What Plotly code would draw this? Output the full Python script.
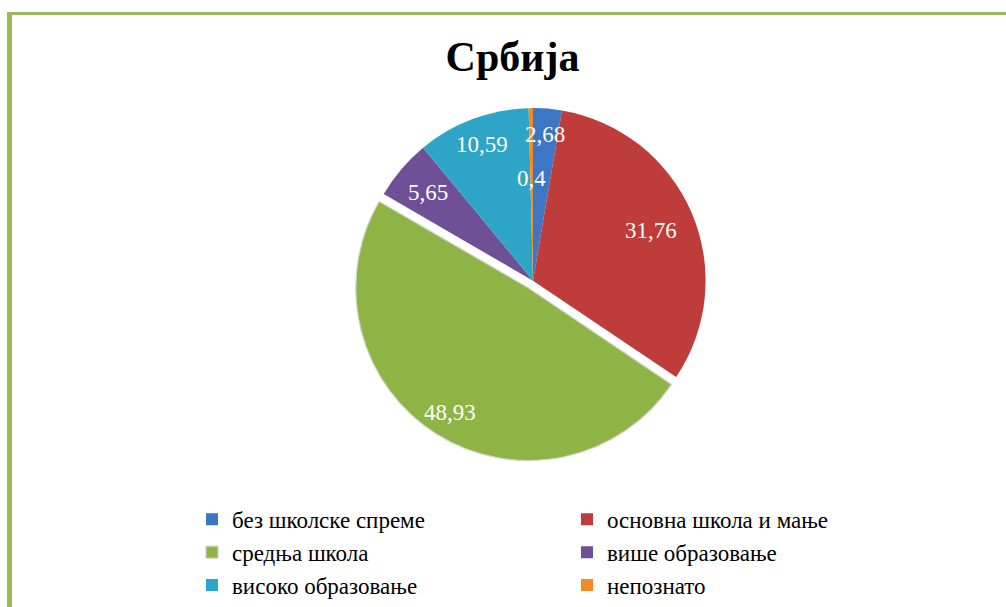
import math
import plotly.graph_objects as go

# ---- data ----
categories = ["без школске спреме", "основна школа и мање", "средња школа",
              "више образовање", "високо образовање", "непознато"]
values = [2.68, 31.76, 48.93, 5.65, 10.59, 0.4]
labels_text = ["2,68", "31,76", "48,93", "5,65", "10,59", "0,4"]
colors = ["#3d76c2", "#be3c3a", "#8fb446", "#6f5097", "#2ea5c6", "#f28b25"]
pulls = [0, 0, 0.05, 0, 0, 0]

# ---- layout constants (pixels, figure coordinates) ----
W, H = 1006, 607
cx, cy, r = 533, 283, 174            # pie centre and radius
label_frac = [0.85, 0.74, 0.85, 0.79, 0.84, 0.59]
serif = "Liberation Serif, Times New Roman, serif"
edge_colors = ["rgba(0,0,0,0)", "rgba(0,0,0,0)", "#cfd3c8",
               "rgba(0,0,0,0)", "rgba(0,0,0,0)", "rgba(0,0,0,0)"]
edge_widths = [0, 0, 1.2, 0, 0, 0]


def px2paper(x, y):
    return x / W, 1 - y / H


maxpull = max(pulls)
half = r * (1 + maxpull)
domain_x = [(cx - half) / W, (cx + half) / W]
domain_y = [1 - (cy + half) / H, 1 - (cy - half) / H]

fig = go.Figure(go.Pie(
    labels=categories,
    values=values,
    sort=False,
    direction="clockwise",
    rotation=0,
    pull=pulls,
    marker=dict(colors=colors, line=dict(color=edge_colors, width=edge_widths)),
    textinfo="none",
    hoverinfo="label+value",
    domain=dict(x=domain_x, y=domain_y),
))

# data labels placed from the slice angles
total = sum(values)
cum = 0.0
annotations = []
for v, txt, f, p in zip(values, labels_text, label_frac, pulls):
    mid = (cum + v / 2) / total * 2 * math.pi
    cum += v
    dx, dy = math.sin(mid), -math.cos(mid)
    ax, ay = px2paper(cx + (f + p) * r * dx, cy + (f + p) * r * dy)
    annotations.append(dict(
        x=ax, y=ay, xref="paper", yref="paper",
        text=txt, showarrow=False,
        font=dict(family=serif, size=23, color="white"),
        xanchor="center", yanchor="middle",
    ))

green = "#9bbb59"
shapes = [
    dict(type="rect", xref="paper", yref="paper",
         x0=7 / W, x1=12 / W, y0=-0.05, y1=1 - 12 / H,
         fillcolor=green, line=dict(width=0), layer="above"),
    dict(type="rect", xref="paper", yref="paper",
         x0=7 / W, x1=1.05, y0=1 - 15 / H, y1=1 - 12 / H,
         fillcolor=green, line=dict(width=0), layer="above"),
]

tx, ty = px2paper(512.5, 56.5)
lx, ly = px2paper(192, 502)

fig.update_layout(
    width=W, height=H,
    margin=dict(l=0, r=0, t=0, b=0),
    paper_bgcolor="white",
    plot_bgcolor="white",
    title=dict(text="<b>Србија</b>", x=tx, xanchor="center",
               y=ty, yanchor="middle", xref="container", yref="container",
               font=dict(family=serif, size=42, color="black")),
    showlegend=True,
    legend=dict(
        orientation="h",
        x=lx, xanchor="left",
        y=ly, yanchor="top",
        entrywidth=330, entrywidthmode="pixels",
        font=dict(family=serif, size=23, color="black"),
        traceorder="normal",
        bgcolor="rgba(0,0,0,0)",
    ),
    annotations=annotations,
    shapes=shapes,
)

fig.write_html(
    "out.html",
    config={"displayModeBar": False},
    post_script="document.body.style.margin='0';document.body.style.overflow='hidden';",
)
